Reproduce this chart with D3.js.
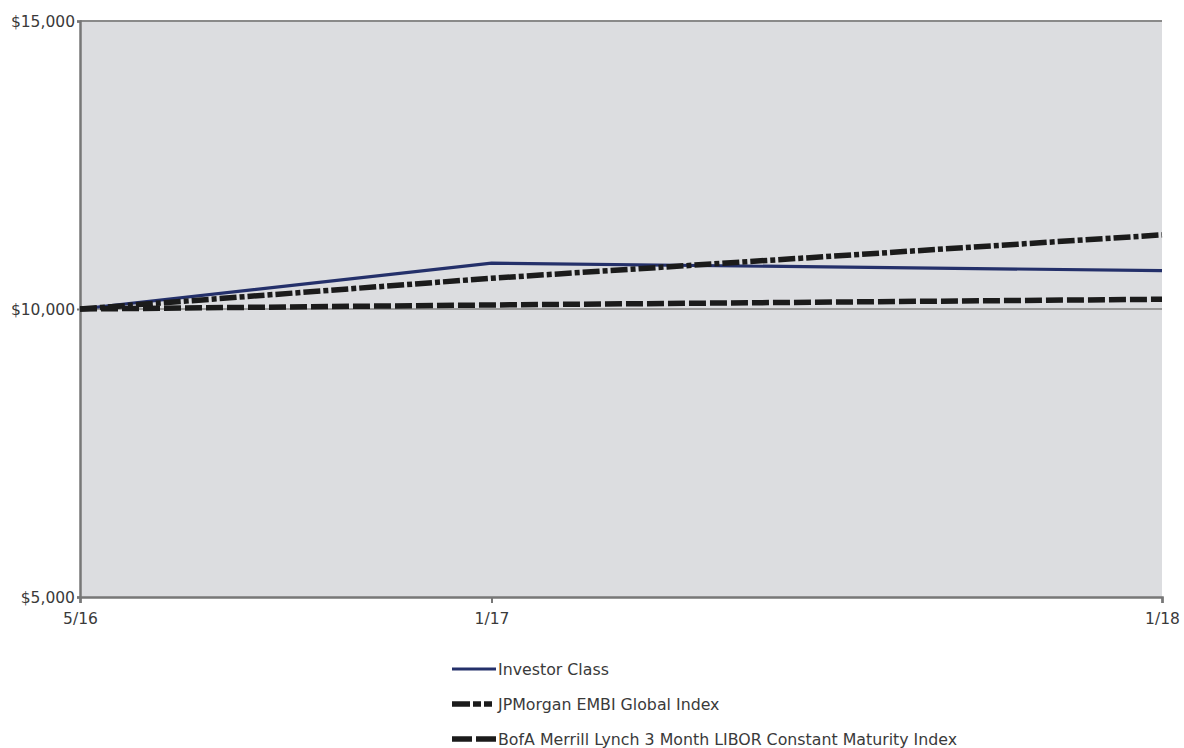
<!DOCTYPE html>
<html>
<head>
<meta charset="utf-8">
<script src="https://cdn.jsdelivr.net/npm/d3@7"></script>
<style>
  html, body { margin: 0; padding: 0; background: #fff; }
  svg { display: block; }
  text { font-family: "DejaVu Sans", Verdana, sans-serif; fill: #3a3a3a; }
</style>
</head>
<body>
<svg id="chart" width="1184" height="748"></svg>
<script>
// Observation dates and their tick labels
const periodDates = ["2016-06-21", "2017-01-31", "2018-01-31"];
const periodLabels = ["5/16", "1/17", "1/18"];

// Growth of a $10,000 investment
const investorClass = [10000, 10795, 10666];
const jpmEmbiGlobal = [10000, 10534, 11287];
const bofaLibor3m = [10000, 10070, 10169];

// Y axis
const yTicks = [5000, 10000, 15000];
const yDomain = [5000, 15000];
const baseline = 10000;

const seriesNames = [
  "Investor Class",
  "JPMorgan EMBI Global Index",
  "BofA Merrill Lynch 3 Month LIBOR Constant Maturity Index"
];

const parse = d3.timeParse("%Y-%m-%d");
const dates = periodDates.map(parse);

const series = [
  { name: seriesNames[0], values: investorClass, color: "#24306a", width: 3.2, dash: null, key: null },
  { name: seriesNames[1], values: jpmEmbiGlobal, color: "#1b1b1b", width: 5.5, dash: "17,3,5,3", key: "18,3,8,3,8,4" },
  { name: seriesNames[2], values: bofaLibor3m, color: "#1b1b1b", width: 5.5, dash: "17,4", key: "20,4" }
];

const svg = d3.select("#chart");
const m = { left: 80, right: 1162, top: 21, bottom: 597 };

const x = d3.scaleTime().domain(d3.extent(dates)).range([m.left, m.right]);
const y = d3.scaleLinear().domain(yDomain).range([m.bottom, m.top]);

// Plot background
svg.append("rect")
  .attr("x", m.left).attr("y", m.top)
  .attr("width", m.right - m.left).attr("height", m.bottom - m.top)
  .attr("fill", "#dcdde0");

// Top frame edge
svg.append("line")
  .attr("x1", m.left).attr("x2", m.right)
  .attr("y1", m.top).attr("y2", m.top)
  .attr("stroke", "#8a8a8a").attr("stroke-width", 2);

// $10,000 reference line
svg.append("line")
  .attr("x1", m.left).attr("x2", m.right)
  .attr("y1", y(baseline)).attr("y2", y(baseline))
  .attr("stroke", "#9a9a9a").attr("stroke-width", 2);

// Y axis
const yAxis = d3.axisLeft(y)
  .tickValues(yTicks)
  .tickSize(3)
  .tickPadding(2)
  .tickFormat(d => "$" + d3.format(",")(d));
const gy = svg.append("g").attr("transform", `translate(${m.left},0)`).call(yAxis);
gy.attr("font-size", null).attr("font-family", null);
gy.select(".domain").attr("stroke", "#777").attr("stroke-width", 2.5);
gy.selectAll(".tick line").attr("stroke", "#777").attr("stroke-width", 2);
gy.selectAll(".tick text")
  .style("font-size", "15.5px")
  .attr("fill", "#3a3a3a").attr("dy", "0.35em");

// X axis
const xAxis = d3.axisBottom(x)
  .tickValues(dates)
  .tickSize(6)
  .tickPadding(10)
  .tickFormat((d, i) => periodLabels[i]);
const gx = svg.append("g").attr("transform", `translate(0,${m.bottom})`).call(xAxis);
gx.attr("font-size", null).attr("font-family", null);
gx.select(".domain").attr("stroke", "#777").attr("stroke-width", 2.5);
gx.selectAll(".tick line").attr("stroke", "#777").attr("stroke-width", 2);
gx.selectAll(".tick text")
  .style("font-size", "15.5px")
  .attr("fill", "#3a3a3a");

// Series lines
const line = d3.line()
  .x((d, i) => x(dates[i]))
  .y(d => y(d));

svg.append("g").selectAll("path")
  .data(series)
  .join("path")
  .attr("d", s => line(s.values))
  .attr("fill", "none")
  .attr("stroke", s => s.color)
  .attr("stroke-width", s => s.width)
  .attr("stroke-dasharray", s => s.dash)
  .attr("stroke-linecap", "butt");

// Legend
const legend = svg.append("g").attr("transform", "translate(452,669)");
const item = legend.selectAll("g")
  .data(series)
  .join("g")
  .attr("transform", (d, i) => `translate(0,${i * 35})`);
item.append("line")
  .attr("x1", 0).attr("x2", 44)
  .attr("y1", 0).attr("y2", 0)
  .attr("stroke", s => s.color)
  .attr("stroke-width", s => s.width)
  .attr("stroke-dasharray", s => s.key);
item.append("text")
  .attr("x", 46).attr("y", 0).attr("dy", "0.35em")
  .style("font-size", "15.8px")
  .text(s => s.name);
</script>
</body>
</html>
